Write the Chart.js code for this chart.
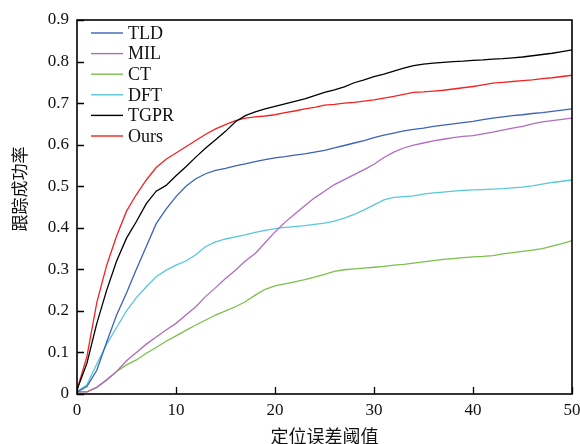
<!DOCTYPE html>
<html>
<head>
<meta charset="utf-8">
<script src="https://cdn.jsdelivr.net/npm/chart.js@4/dist/chart.umd.min.js"></script>
<style>
html,body{margin:0;padding:0;background:#fff;}
#wrap{width:580px;height:444px;position:relative;}
</style>
</head>
<body>
<div id="wrap"><canvas id="c" width="580" height="444"></canvas></div>
<script>
const thresholds = Array.from({length:51},(_,i)=>i);
const seriesNames = ['TLD','MIL','CT','DFT','TGPR','Ours'];
const seriesColors = ['#3b63b6','#b06cbf','#7cbf4c','#58c8d9','#000000','#f52222'];
const xTicks = [0,10,20,30,40,50];
const yTicks = [0,0.1,0.2,0.3,0.4,0.5,0.6,0.7,0.8,0.9];
const xTitle = '定位误差阈值';
const yTitle = '跟踪成功率';

const TLD = [0.005,0.018,0.057,0.125,0.19,0.243,0.3,0.355,0.41,0.445,0.475,0.5,0.518,0.53,0.538,0.543,0.549,0.554,0.559,0.564,0.568,0.571,0.575,0.578,0.582,0.586,0.592,0.598,0.604,0.61,0.617,0.623,0.628,0.633,0.637,0.64,0.644,0.647,0.65,0.653,0.656,0.66,0.664,0.667,0.67,0.672,0.675,0.677,0.68,0.683,0.686];
const MIL = [0.005,0.005,0.016,0.034,0.054,0.08,0.1,0.12,0.137,0.154,0.17,0.19,0.21,0.235,0.256,0.278,0.298,0.32,0.338,0.364,0.39,0.413,0.433,0.453,0.472,0.488,0.504,0.516,0.528,0.54,0.553,0.569,0.582,0.592,0.599,0.604,0.609,0.613,0.617,0.62,0.622,0.626,0.63,0.635,0.64,0.644,0.65,0.655,0.658,0.661,0.664];
const CT = [0.005,0.005,0.016,0.034,0.054,0.07,0.082,0.098,0.112,0.127,0.14,0.153,0.166,0.178,0.19,0.2,0.21,0.222,0.238,0.252,0.26,0.265,0.27,0.275,0.281,0.288,0.295,0.299,0.301,0.303,0.305,0.307,0.31,0.312,0.315,0.318,0.321,0.324,0.326,0.328,0.33,0.331,0.333,0.337,0.34,0.343,0.346,0.35,0.356,0.362,0.369];
const DFT = [0.005,0.022,0.072,0.12,0.16,0.2,0.232,0.258,0.282,0.298,0.31,0.32,0.335,0.355,0.366,0.373,0.378,0.383,0.389,0.394,0.398,0.401,0.403,0.405,0.408,0.411,0.416,0.423,0.432,0.443,0.455,0.467,0.473,0.475,0.477,0.481,0.484,0.486,0.488,0.49,0.491,0.492,0.493,0.494,0.496,0.498,0.501,0.505,0.509,0.512,0.515];
const TGPR = [0.01,0.074,0.17,0.25,0.32,0.375,0.415,0.458,0.488,0.502,0.525,0.547,0.57,0.592,0.612,0.632,0.655,0.67,0.679,0.686,0.692,0.698,0.704,0.71,0.718,0.726,0.732,0.739,0.749,0.756,0.764,0.77,0.777,0.784,0.79,0.794,0.796,0.798,0.8,0.801,0.803,0.804,0.806,0.807,0.809,0.811,0.814,0.817,0.82,0.824,0.828];
const Ours = [0.01,0.09,0.22,0.31,0.38,0.44,0.48,0.515,0.545,0.565,0.58,0.595,0.61,0.625,0.638,0.648,0.658,0.664,0.667,0.669,0.672,0.677,0.681,0.686,0.69,0.695,0.697,0.7,0.702,0.705,0.708,0.712,0.716,0.721,0.726,0.727,0.729,0.731,0.734,0.737,0.74,0.744,0.748,0.75,0.752,0.754,0.756,0.759,0.761,0.764,0.767];

const allSeries = [TLD, MIL, CT, DFT, TGPR, Ours];

const datasets = allSeries.map((arr, k) => ({
  label: seriesNames[k],
  data: arr.map((v, i) => ({x: thresholds[i], y: v})),
  borderColor: seriesColors[k],
  backgroundColor: seriesColors[k],
  borderWidth: 1.3,
  pointRadius: 0,
  tension: 0,
  fill: false
}));

const SERIF = "'Liberation Serif','DejaVu Serif',serif";
const CJK = "'Noto Sans CJK SC','Noto Sans CJK JP',sans-serif";

const framePlugin = {
  id: 'frame',
  afterDatasetsDraw(chart) {
    const ctx = chart.ctx;
    const a = chart.chartArea;
    const xs = chart.scales.x, ys = chart.scales.y;
    ctx.save();
    ctx.strokeStyle = '#000';
    ctx.lineWidth = 1.6;
    ctx.strokeRect(a.left, a.top, a.right - a.left, a.bottom - a.top);
    ctx.lineWidth = 1.3;
    ctx.beginPath();
    yTicks.forEach(v => {
      const py = Math.round(ys.getPixelForValue(v)) + 0.5;
      ctx.moveTo(a.left, py); ctx.lineTo(a.left + 7, py);
    });
    xTicks.forEach(v => {
      const px = Math.round(xs.getPixelForValue(v)) + 0.5;
      ctx.moveTo(px, a.bottom); ctx.lineTo(px, a.bottom - 7);
    });
    ctx.stroke();

    // legend
    ctx.font = '18px ' + SERIF;
    ctx.textBaseline = 'middle';
    ctx.textAlign = 'left';
    chart.data.datasets.forEach((ds, k) => {
      const y = 33 + k * 20.6;
      ctx.strokeStyle = ds.borderColor;
      ctx.lineWidth = 1.4;
      ctx.beginPath();
      ctx.moveTo(91, y); ctx.lineTo(123, y);
      ctx.stroke();
      ctx.fillStyle = '#111';
      ctx.fillText(ds.label, 128, y + 1);
    });

    // axis titles
    ctx.fillStyle = '#111';
    ctx.font = '18px ' + CJK;
    ctx.textAlign = 'center';
    ctx.textBaseline = 'middle';
    ctx.fillText(xTitle, (a.left + a.right) / 2, 436);
    ctx.save();
    ctx.translate(20, 189);
    ctx.rotate(-Math.PI / 2);
    ctx.font = '17px ' + CJK;
    ctx.fillText(yTitle, 0, 0);
    ctx.restore();
    ctx.restore();
  }
};

new Chart(document.getElementById('c'), {
  type: 'line',
  data: { datasets },
  options: {
    responsive: false,
    animation: false,
    devicePixelRatio: 1,
    layout: { padding: { top: 20, right: 8, left: 0, bottom: 0 } },
    plugins: { legend: { display: false }, tooltip: { enabled: false } },
    scales: {
      x: {
        type: 'linear', min: 0, max: 50,
        afterBuildTicks: s => { s.ticks = xTicks.map(v => ({value: v})); },
        afterFit: s => { s.height = 50; s.paddingLeft = 0; s.paddingRight = 0; },
        grid: { display: false, drawTicks: false },
        border: { display: false },
        ticks: { padding: 6, color: '#111', font: { family: SERIF, size: 17 }, maxRotation: 0,
                 callback: v => String(v) }
      },
      y: {
        type: 'linear', min: 0, max: 0.9,
        afterBuildTicks: s => { s.ticks = yTicks.map(v => ({value: v})); },
        afterFit: s => { s.width = 77; s.paddingTop = 0; s.paddingBottom = 0; },
        grid: { display: false, drawTicks: false },
        border: { display: false },
        ticks: { padding: 8, color: '#111', font: { family: SERIF, size: 17 },
                 callback: v => (v === 0 ? '0' : Number(v).toFixed(1)) }
      }
    }
  },
  plugins: [framePlugin]
});
</script>
</body>
</html>
